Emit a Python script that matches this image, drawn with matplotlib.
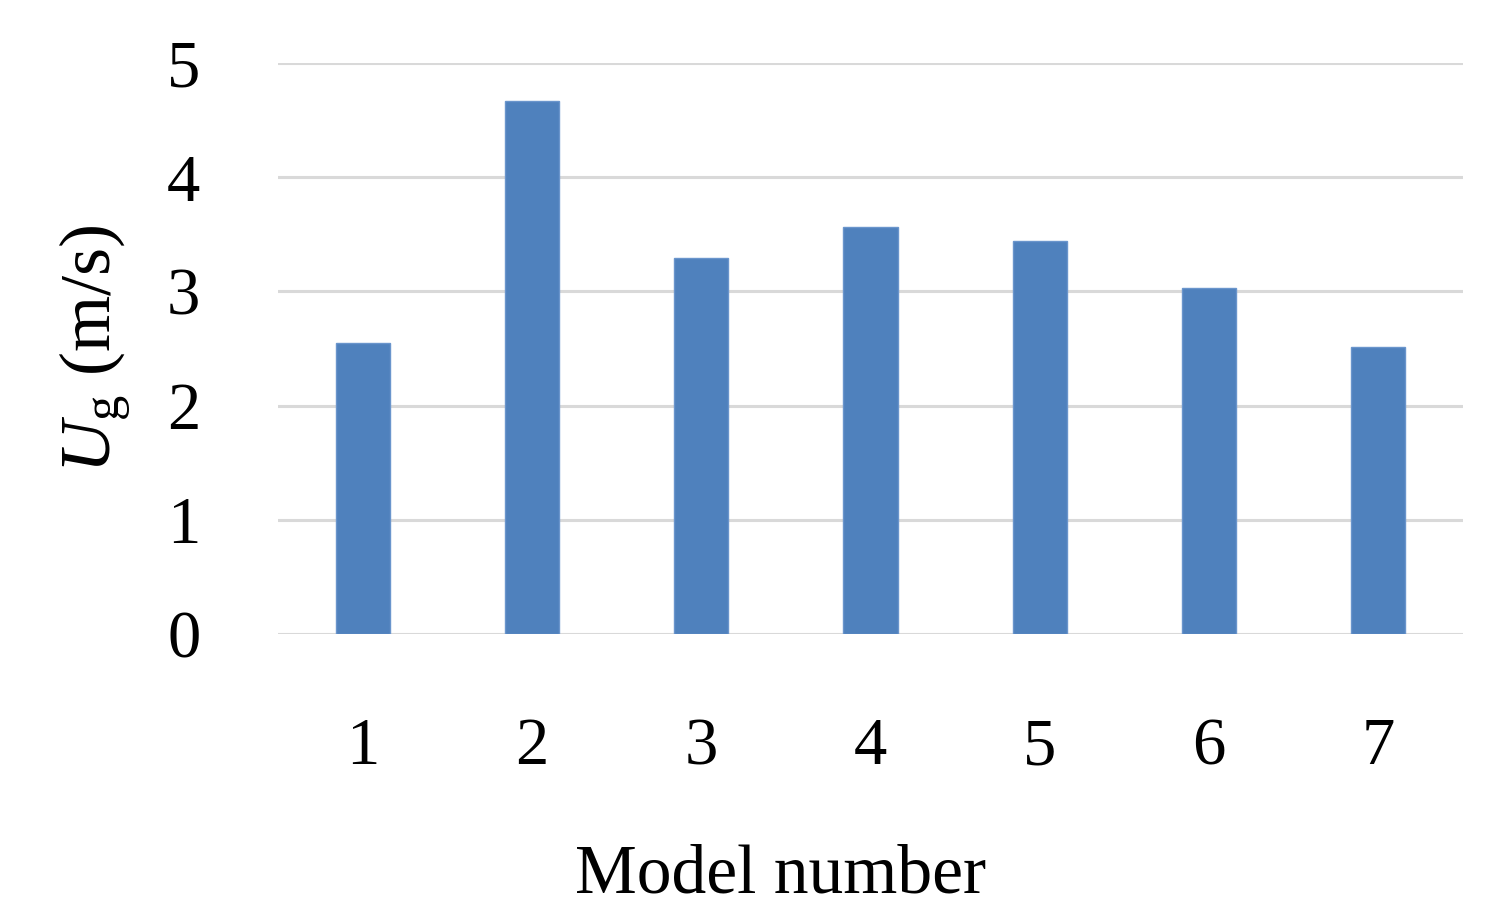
import matplotlib.pyplot as plt
import numpy as np

# data
models = ['1', '2', '3', '4', '5', '6', '7']
ug = [2.55, 4.67, 3.29, 3.56, 3.44, 3.03, 2.51]

plt.rcParams['font.family'] = ['Liberation Serif', 'DejaVu Serif']
plt.rcParams['mathtext.fontset'] = 'custom'
plt.rcParams['mathtext.rm'] = 'Liberation Serif'
plt.rcParams['mathtext.it'] = 'Liberation Serif:italic'

fig = plt.figure(figsize=(15.12, 9.19), dpi=100)
ax = fig.add_axes([0.1839, 0.3101, 0.7837, 0.6213])

x = np.arange(len(models))
ax.bar(x, ug, width=0.32, color='#4F81BD', edgecolor='#6A95CC', linewidth=1, zorder=3)

ax.set_xlim(-0.5, len(models) - 0.5)
ax.set_ylim(0, 5)
ax.set_yticks(range(6))
ax.set_xticks(x)
ax.set_xticklabels(models)
ax.yaxis.grid(True, color='#D9D9D9', linewidth=2.2, zorder=0)
ax.set_axisbelow(True)
for s in ax.spines.values():
    s.set_visible(False)
ax.tick_params(axis='both', length=0, labelsize=48)
ax.tick_params(axis='y', pad=56)
ax.tick_params(axis='x', pad=60)

ax.set_xlabel('Model number', fontsize=50)
ax.xaxis.set_label_coords(0.424, -0.367)
ax.set_ylabel(r'$U_{\rm g}$ (m/s)', fontsize=52, labelpad=24)

plt.savefig('out.png', dpi=100)
